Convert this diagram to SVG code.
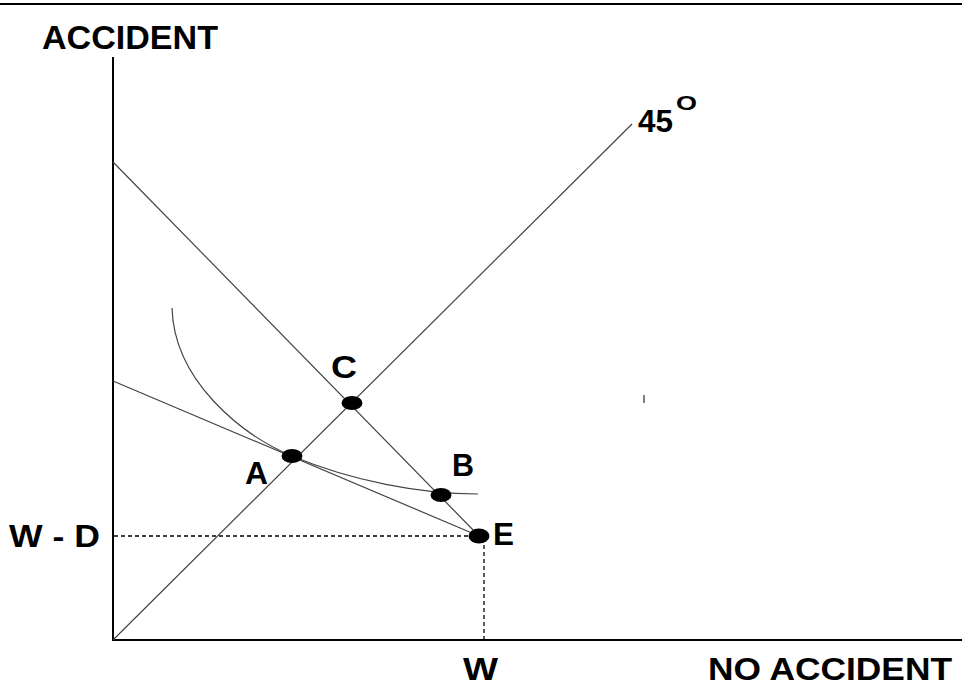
<svg xmlns="http://www.w3.org/2000/svg" width="962" height="688" viewBox="0 0 962 688">
<style>
.axis{stroke:#000;stroke-width:2;fill:none}
.ln{stroke:#444;stroke-width:1.2;fill:none}
.dot{stroke:#000;stroke-width:1.3;stroke-dasharray:4 3;fill:none}
.pt{fill:#000}
text{font-family:"Liberation Sans",Arial,sans-serif;font-weight:bold;fill:#000}
.lbl{font-size:32px}
</style>
<rect width="962" height="688" fill="#fff"/>
<line x1="0" y1="4" x2="962" y2="4" stroke="#000" stroke-width="2"/>
<g id="connectors">
<line class="axis" x1="113" y1="57" x2="113" y2="641"/>
<line class="axis" x1="112" y1="640" x2="962" y2="640"/>
<line class="ln" x1="113" y1="640" x2="632" y2="124"/>
<line class="ln" x1="113" y1="162" x2="479" y2="536"/>
<line class="ln" x1="113" y1="381" x2="479" y2="536"/>
<path class="ln" d="M172,308 C174,380 240,434 292,456 C352,481 420,494 478,494"/>
<line class="dot" x1="114" y1="536" x2="470" y2="536"/>
<line class="dot" x1="484" y1="545" x2="484" y2="639"/>
<line x1="644" y1="395" x2="644" y2="403" stroke="#555" stroke-width="1.5"/>
</g>
<g id="nodeA"><ellipse class="pt" cx="292" cy="456" rx="10.5" ry="7"/><text class="lbl" x="245" y="484" textLength="23" lengthAdjust="spacingAndGlyphs">A</text></g>
<g id="nodeC"><ellipse class="pt" cx="352" cy="403" rx="10.5" ry="7"/><text class="lbl" x="331" y="378" textLength="26" lengthAdjust="spacingAndGlyphs">C</text></g>
<g id="nodeB"><ellipse class="pt" cx="441" cy="495" rx="10.5" ry="7"/><text class="lbl" x="452" y="476" textLength="22" lengthAdjust="spacingAndGlyphs">B</text></g>
<g id="nodeE"><ellipse class="pt" cx="479" cy="536" rx="10.5" ry="7.5"/><text class="lbl" x="493" y="545" textLength="21" lengthAdjust="spacingAndGlyphs">E</text></g>
<g id="labels">
<text x="42" y="49" font-size="34" textLength="176" lengthAdjust="spacingAndGlyphs">ACCIDENT</text>
<text class="lbl" x="638" y="132" textLength="35" lengthAdjust="spacingAndGlyphs">45</text>
<text x="676" y="110" font-size="21" textLength="21" lengthAdjust="spacingAndGlyphs">O</text>
<text class="lbl" x="9" y="547" textLength="91" lengthAdjust="spacingAndGlyphs">W - D</text>
<text x="463" y="680" font-size="31" textLength="35" lengthAdjust="spacingAndGlyphs">W</text>
<text x="708" y="680" font-size="31" textLength="244" lengthAdjust="spacingAndGlyphs">NO ACCIDENT</text>
</g>
</svg>
